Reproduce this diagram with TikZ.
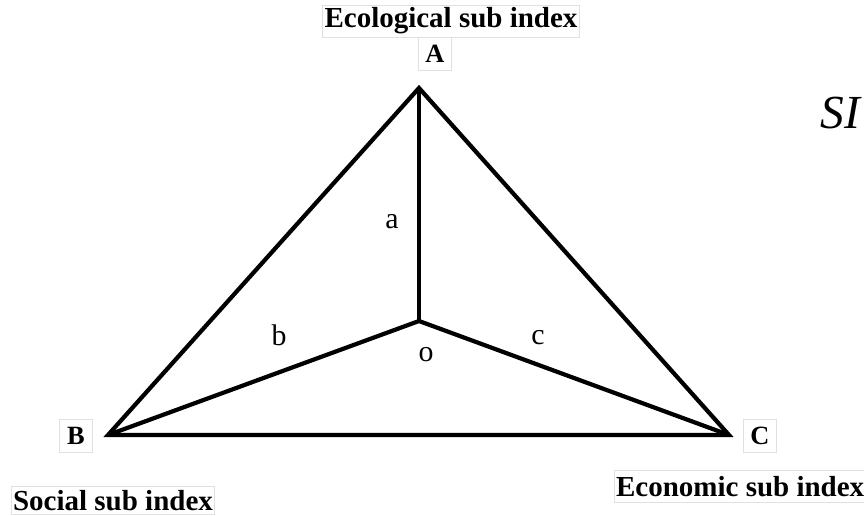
\documentclass[tikz,border=0pt]{standalone}
\usepackage{fontspec}
\setmainfont{Liberation Serif}
\usepackage{tikz}
\usetikzlibrary{positioning}
\tikzstyle{vertex} = [coordinate]
\tikzstyle{caption} = [draw=black!12, line width=0.4pt, minimum height=0.64cm, inner xsep=1pt, inner ysep=0pt, font=\fontsize{16.5}{18}\selectfont\bfseries]
\tikzstyle{corner} = [draw=black!12, line width=0.4pt, minimum width=0.66cm, minimum height=0.66cm, inner sep=0pt, font=\fontsize{15}{17}\selectfont\bfseries]
\tikzstyle{edge} = [line width=2.4pt, line join=miter]
\tikzstyle{letter} = [inner sep=0pt, font=\fontsize{17}{19}\selectfont]

\begin{document}
\begin{tikzpicture}[x=0.02cm, y=-0.02cm]
        % 画布
        \useasboundingbox (0,0) rectangle (864,515);

        % 顶点
        \node [vertex] (A) at (419,88) {};
        \node [vertex] (B) at (108,435) {};
        \node [vertex] (C) at (729,435) {};
        \node [vertex] (O) at (419,321) {};

        % 标签
        \node [caption] (eco) at (451,21) {Ecological sub index};
        \node [corner] (la) at (435,54) {A};
        \node [corner] (lb) at (76,436) {B};
        \node [corner] (lc) at (760,436) {C};
        \node [caption, anchor=north west, minimum height=0.56cm] (soc) at (11,486) {Social sub index};
        \node [caption, anchor=north west] (econ) at (614,470) {Economic sub index};
        \node [anchor=base west, inner sep=0pt, font=\fontsize{27}{30}\selectfont\itshape] (si) at (820,128) {SI};

        % 边
        \draw [edge] (A) -- (B) -- (C) -- cycle;
        \draw [edge] (A) -- (O);
        \draw [edge] (B) -- (O) -- (C);

        % 边的名称
        \node [letter] (a) at (392,222) {a};
        \node [letter] (b) at (279,335) {b};
        \node [letter] (c) at (538,338) {c};
        \node [letter] (o) at (426,355) {o};
\end{tikzpicture}
\end{document}
